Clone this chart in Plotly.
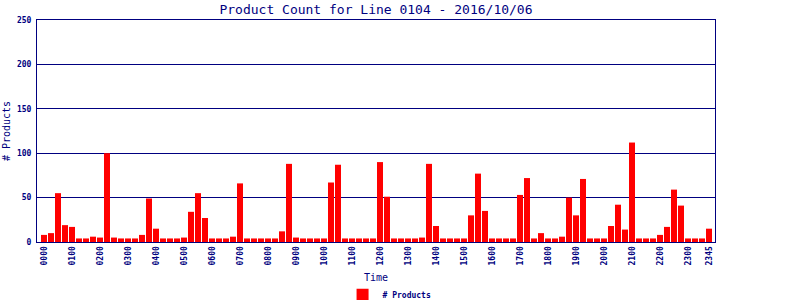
import plotly.graph_objects as go

times = [f"{h:02d}{m:02d}" for h in range(24) for m in (0, 15, 30, 45)]
products = [
    8, 10, 55, 19, 17, 4, 4, 6, 5, 100, 5, 4, 4, 4, 8, 49,
    15, 4, 4, 4, 5, 34, 55, 27, 4, 4, 4, 6, 66, 4, 4, 4,
    4, 4, 12, 88, 5, 4, 4, 4, 4, 67, 87, 4, 4, 4, 4, 4,
    90, 51, 4, 4, 4, 4, 5, 88, 18, 4, 4, 4, 4, 30, 77, 35,
    4, 4, 4, 4, 53, 72, 4, 10, 4, 4, 6, 50, 30, 71, 4, 4,
    4, 18, 42, 14, 112, 4, 4, 4, 8, 17, 59, 41, 4, 4, 4, 15,
]
tick_idx = list(range(0, 96, 4)) + [95]
tick_text = [times[i] for i in tick_idx]
y_ticks = [0, 50, 100, 150, 200, 250]

navy = "#000080"
mono = "DejaVu Sans Mono"

fig = go.Figure()
fig.add_trace(go.Bar(
    x=list(range(len(products))), y=products, name="# Products",
    marker=dict(color="#FF0000", line=dict(width=0)),
    showlegend=True,
))

fig.update_layout(
    width=800, height=300,
    margin=dict(l=37, r=85, t=20, b=58, autoexpand=False),
    paper_bgcolor="white", plot_bgcolor="white",
    bargap=1/7,
    title=dict(text="Product Count for Line 0104 - 2016/10/06",
               x=376/800, xanchor="center", y=1 - 9/300, yanchor="middle",
               font=dict(family=mono, size=13, color=navy)),
    font=dict(family=mono, color=navy),
    legend=dict(orientation="h", x=0.52, xanchor="center", y=-0.238, yanchor="middle",
                font=dict(family=mono, size=8, color=navy, weight="bold"),
                itemwidth=30, tracegroupgap=0, bgcolor="rgba(0,0,0,0)"),
)
fig.update_xaxes(
    range=[-1, 95.857], tickmode="array", tickvals=tick_idx, ticktext=tick_text,
    tickangle=-90, tickfont=dict(family=mono, size=8, color=navy, weight="bold"),
    showline=True, linecolor=navy, linewidth=1, mirror=True, automargin=False,
    showgrid=False, ticks="", zeroline=False,
    title=dict(text="Time", font=dict(family=mono, size=10, color=navy), standoff=9),
)
fig.update_yaxes(
    range=[0, 250], tickmode="array", tickvals=y_ticks,
    tickfont=dict(family=mono, size=8, color=navy, weight="bold"),
    ticklabelstandoff=3,
    showline=True, linecolor=navy, linewidth=1, mirror=True, automargin=False,
    showgrid=True, gridcolor=navy, gridwidth=1, ticks="", zeroline=False,
    title=dict(text="# Products", font=dict(family=mono, size=10, color=navy), standoff=4),
)

fig.write_html("out.html")
